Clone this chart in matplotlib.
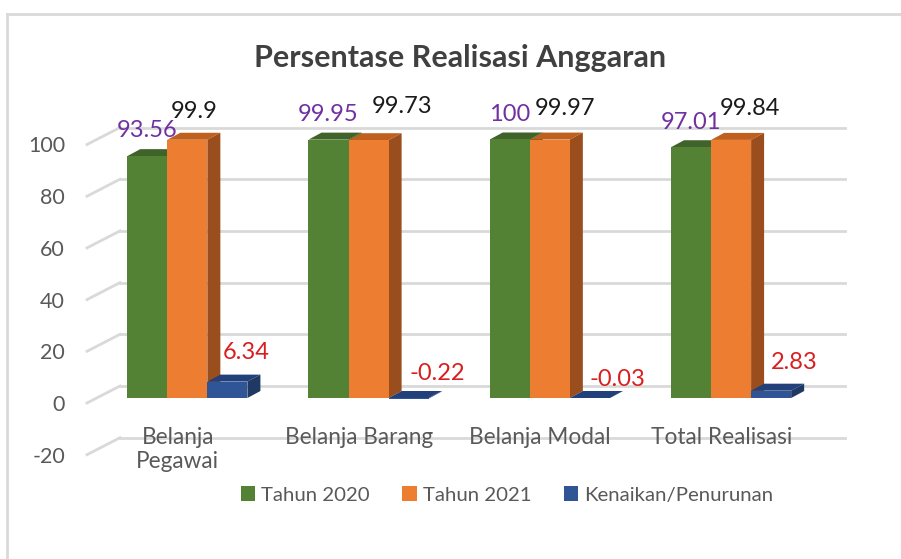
import numpy as np
import matplotlib.pyplot as plt
from matplotlib.patches import Polygon, Patch

categories = ['Belanja\nPegawai', 'Belanja Barang', 'Belanja Modal', 'Total Realisasi']
tahun_2020 = [93.56, 99.95, 100, 97.01]
tahun_2021 = [99.9, 99.73, 99.97, 99.84]
perubahan = [6.34, -0.22, -0.03, 2.83]
series_names = ['Tahun 2020', 'Tahun 2021', 'Kenaikan/Penurunan']
y_ticks = [-20, 0, 20, 40, 60, 80, 100]

plt.rcParams['font.family'] = ['Lato', 'DejaVu Sans']

# front / top / side shades for each series
front_colors = ['#548235', '#ed7d31', '#2f5597']
top_colors = ['#3f6328', '#c0601f', '#22407a']
side_colors = ['#3f6328', '#9a4e1e', '#1f3864']
label_colors = ['#7030a0', '#1a1a1a', '#d81e1e']

W, H = 901, 559
fig = plt.figure(figsize=(W / 100, H / 100), dpi=100)

# axes frame = front plane of the bars, x from -0.5 to 3.5, y from -20 to 100
left_px, right_px = 96.7, 821.7
top_px, bottom_px = 139.5, 449.7
ax = fig.add_axes([left_px / W, 1 - bottom_px / H,
                   (right_px - left_px) / W, (bottom_px - top_px) / H])
ax.set_xlim(-0.5, 3.5)
ax.set_ylim(-20, 100)
ax.axis('off')

px_x = (right_px - left_px) / 4.0
px_y = (bottom_px - top_px) / 120.0


def shift(x, y, dx, dy):
    """move a point of the front plane by dx, dy pixels (dy up)"""
    return x + dx / px_x, y + dy / px_y


BAR_DEPTH = (13, 7)
BACK = (23.3, 12)
FRONT = (-9.7, -5)
grid_color = '#d9d9d9'

# back wall gridlines and left wall
for v in y_ticks:
    x0, y0 = shift(-0.5, v, *BACK)
    x1, y1 = shift(3.5, v, *BACK)
    ax.plot([x0, x1], [y0, y1], color=grid_color, lw=2, zorder=1, clip_on=False)
    xf, yf = shift(-0.5, v, *FRONT)
    ax.plot([xf, x0], [yf, y0], color=grid_color, lw=2, zorder=1, clip_on=False)
    xt, yt = shift(-0.5, v, FRONT[0] - 22, FRONT[1] - 2)
    ax.text(xt, yt, f'{v}', ha='right', va='center', fontsize=15.5,
            color='#595959', clip_on=False)

x = np.arange(len(categories))
width = 0.221
series = [tahun_2020, tahun_2021, perubahan]

# label offsets in pixels (right, up) from the top of each bar front
label_offsets = [
    [(0, 26), (0, 25), (0, 25), (0, 25)],
    [(7, 28), (33, 34), (15, 31), (19, 31)],
    [(19, 29), (29, 25), (28, 19), (23, 28)],
]

z = 3
for i in range(len(categories)):
    for s, vals in enumerate(series):
        v = vals[i]
        xc = x[i] + (s - 1) * width
        xl, xr = xc - width / 2, xc + width / 2
        top, bot = max(v, 0), min(v, 0)
        # top face
        top_pts = [(xl, top), (xr, top), shift(xr, top, *BAR_DEPTH), shift(xl, top, *BAR_DEPTH)]
        ax.add_patch(Polygon(top_pts, closed=True, facecolor=top_colors[s],
                             edgecolor='none', zorder=z, clip_on=False))
        # right side face
        side_pts = [(xr, bot), (xr, top), shift(xr, top, *BAR_DEPTH), shift(xr, bot, *BAR_DEPTH)]
        ax.add_patch(Polygon(side_pts, closed=True, facecolor=side_colors[s],
                             edgecolor='none', zorder=z, clip_on=False))
        # front face
        ax.bar(xc, v, width=width, color=front_colors[s], edgecolor='none',
               zorder=z + 1, clip_on=False)
        z += 2
        lx, ly = shift(xc, top, *label_offsets[s][i])
        ax.text(lx, ly, f'{v:g}', ha='center', va='center', fontsize=17,
                color=label_colors[s], zorder=50, clip_on=False)

# category labels along the floor front edge
for i, name in enumerate(categories):
    cx, cy = shift(x[i], 0, FRONT[0], -29)
    ax.text(cx, cy, name, ha='center', va='top', fontsize=16.3, color='#595959',
            linespacing=1.2, zorder=50, clip_on=False)

fig.text(460 / W, 1 - 58 / H, 'Persentase Realisasi Anggaran', ha='center',
         va='center', fontsize=22, fontweight='bold', color='#404040')

handles = [Patch(facecolor=c, edgecolor='none') for c in front_colors]
fig.legend(handles, series_names, loc='center', bbox_to_anchor=(507 / W, 1 - 495 / H),
           ncol=3, frameon=False, fontsize=14.7, handlelength=0.7, handleheight=0.75,
           handletextpad=0.3, columnspacing=1.6, labelcolor='#595959')

# chart area border
fig.add_artist(plt.Line2D([7 / W, 1], [1 - 14 / H, 1 - 14 / H], color='#d9d9d9', lw=2))
fig.add_artist(plt.Line2D([7 / W, 7 / W], [0, 1 - 14 / H], color='#d9d9d9', lw=2))

fig.savefig('out.png', dpi=100, facecolor='white')
